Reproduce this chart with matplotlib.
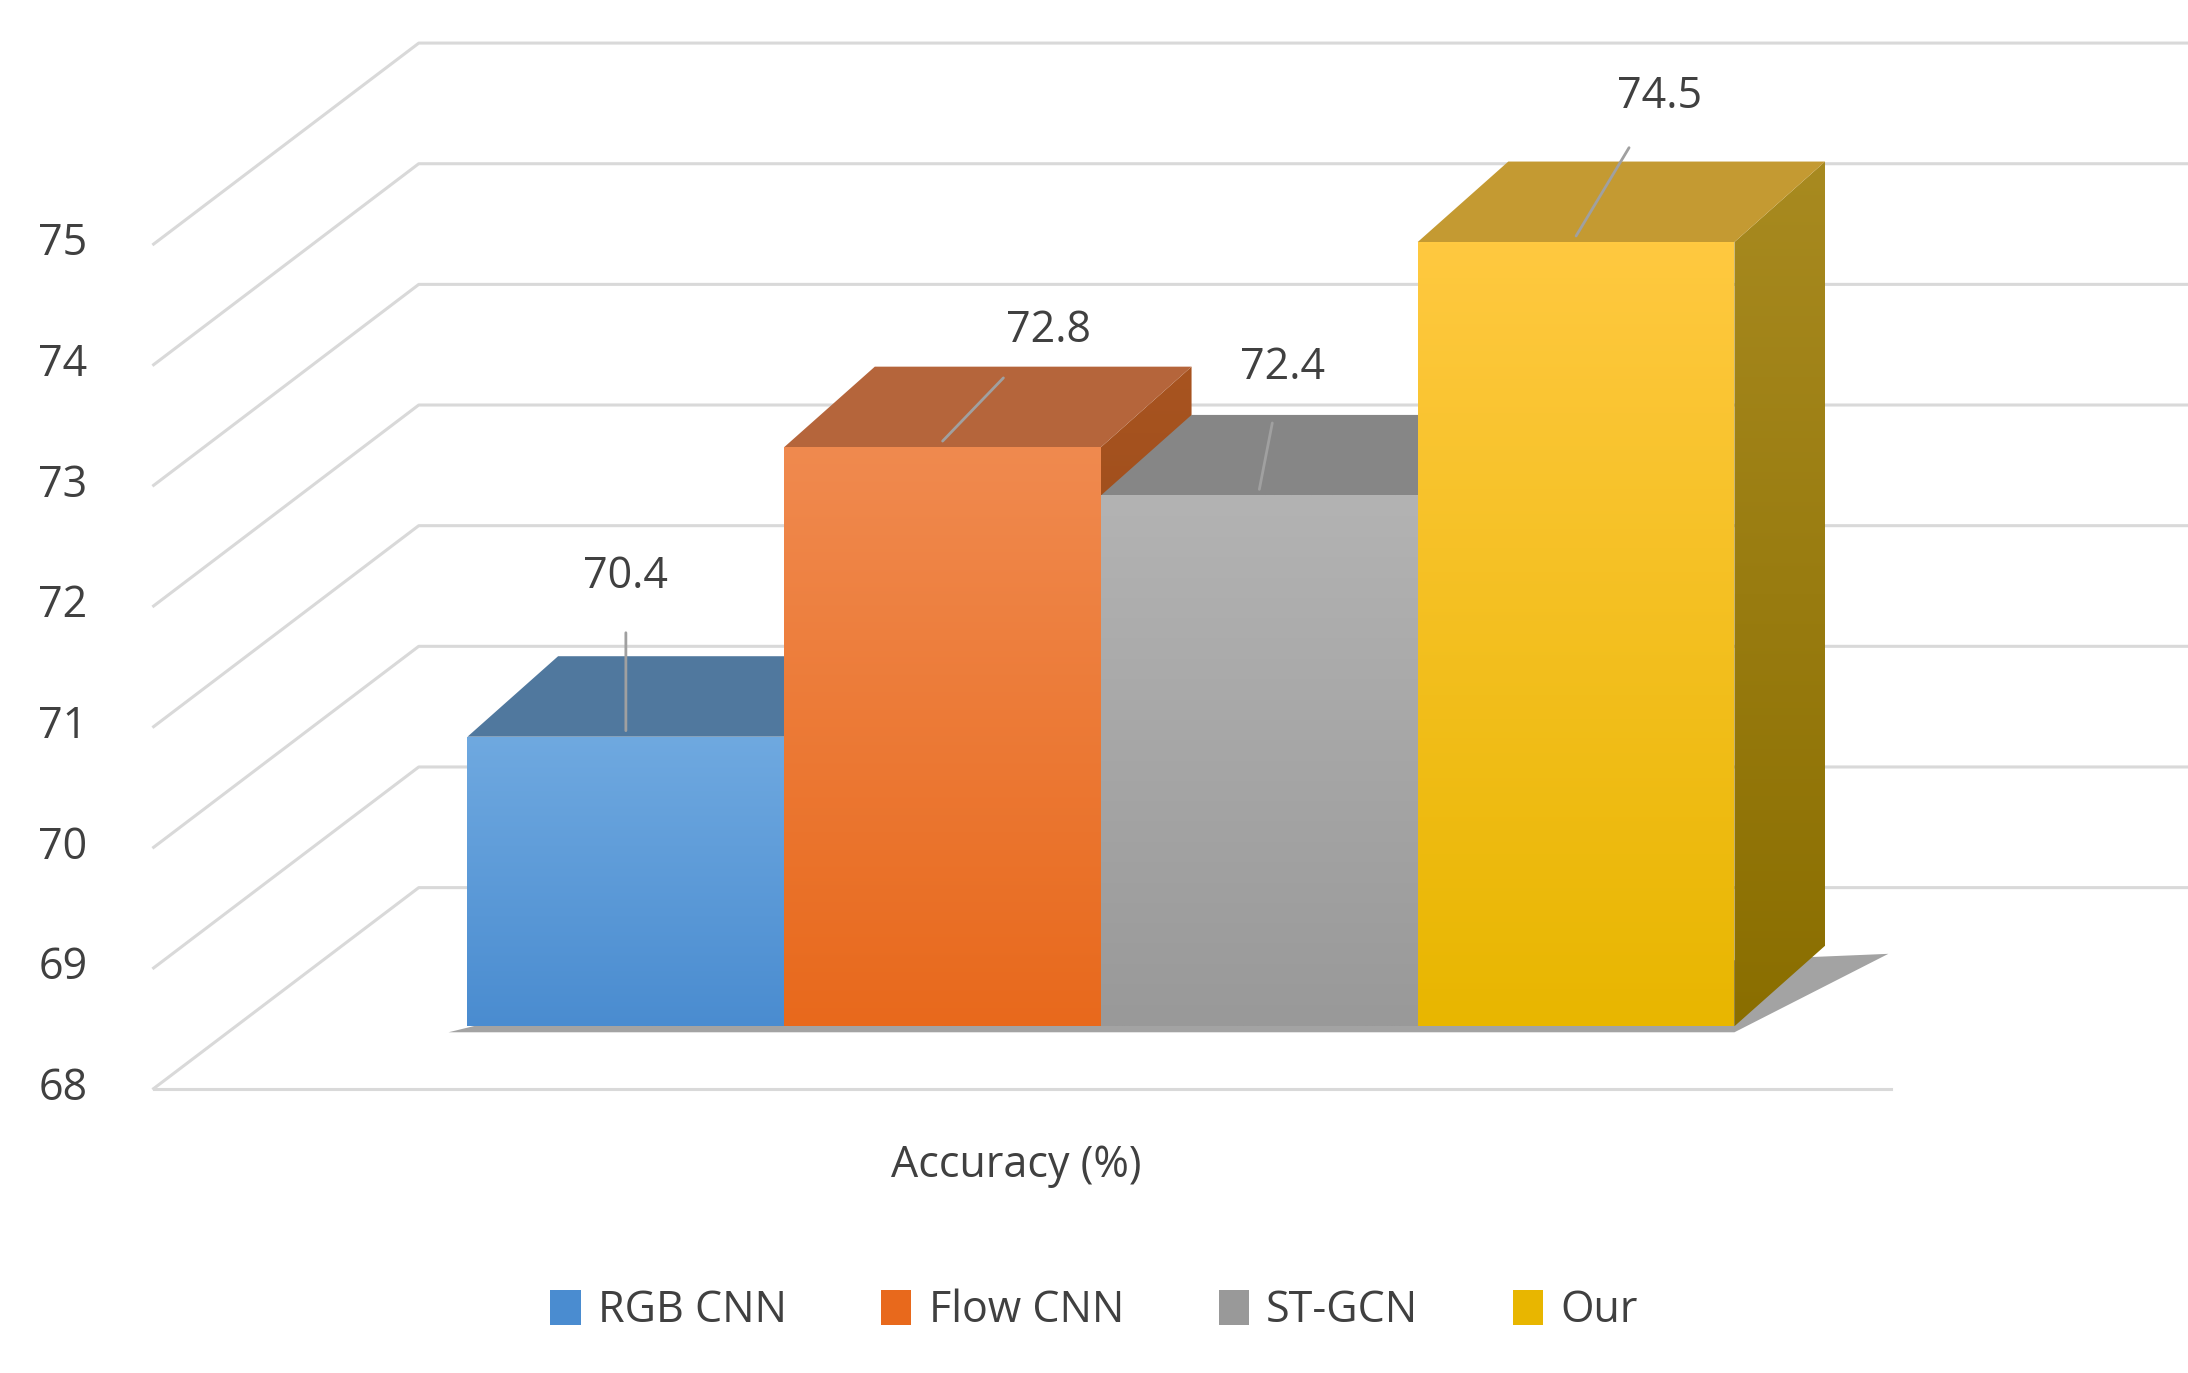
import numpy as np
import matplotlib.pyplot as plt
from matplotlib.patches import Polygon, Patch
from matplotlib.colors import LinearSegmentedColormap

# data
methods = ['RGB CNN', 'Flow CNN', 'ST-GCN', 'Our']
accuracy = [70.4, 72.8, 72.4, 74.5]
yticks = [68, 69, 70, 71, 72, 73, 74, 75]
xlabel = 'Accuracy (%)'

# colours: (front top, front bottom, top face, side top, side bottom)
colors = [('#6fa9e0', '#4a8cd0', '#50789e', '#3d6488', '#2f5272'),
          ('#f08a4f', '#e8691c', '#b5653b', '#a85420', '#8a4012'),
          ('#b3b3b3', '#999999', '#868686', '#777777', '#5f5f5f'),
          ('#ffc940', '#e8b600', '#c49a32', '#a88a20', '#8a6e00')]

S = 2188 / 1568  # reference px -> output px
fig = plt.figure(figsize=(21.88, 13.73), dpi=100)
ax = fig.add_axes([0, 0, 1, 1])
ax.set_xlim(-1.976, 4.932)
ax.set_ylim(65.126, 76.506)
ax.axis('off')

DX, DY = 0.286, 0.667      # bar depth
W = 0.5
grid_c = '#d9d9d9'
fs = 31

# gridlines: front-left diagonal + back wall line
for v in yticks:
    fx, fy = -1.491, v - 0.517
    bx, by = -0.654, v + 1.149
    ax.plot([fx, bx, 4.932], [fy, by, by], color=grid_c, lw=2.2, zorder=1)
    ax.text(-1.778, fy, str(v), ha='center', va='center', fontsize=fs,
            color='#404040', family='Open Sans')
ax.plot([-1.491, 3.993], [67.483, 67.483], color=grid_c, lw=2.2, zorder=1)

# floor shadow
shadow = Polygon([(-0.56, 67.95), (3.5, 67.95), (3.5 + DX + 0.2, 68.0 + DY * 0.9),
                  (-0.56 + DX, 68.0 + DY * 0.2)], closed=True, color='#666666',
                 alpha=0.6, zorder=2, lw=0)
ax.add_patch(shadow)


def grad_fill(poly, c1, c2, z):
    ax.add_patch(poly)
    poly.set_facecolor('none')
    poly.set_edgecolor('none')
    xs, ys = poly.get_xy()[:, 0], poly.get_xy()[:, 1]
    cmap = LinearSegmentedColormap.from_list('g', [c2, c1])
    g = np.linspace(0, 1, 256).reshape(-1, 1)
    im = ax.imshow(g, cmap=cmap, origin='lower', aspect='auto', zorder=z,
                   extent=[xs.min(), xs.max(), ys.min(), ys.max()])
    im.set_clip_path(poly)


base = 68.0
for i, (v, c) in enumerate(zip(accuracy, colors)):
    x0, x1 = i - W, i + W
    z = 3 + i
    side = Polygon([(x1, base), (x1 + DX, base + DY), (x1 + DX, v + DY), (x1, v)], closed=True)
    grad_fill(side, c[3], c[4], z)
    top = Polygon([(x0, v), (x1, v), (x1 + DX, v + DY), (x0 + DX, v + DY)], closed=True,
                  facecolor=c[2], edgecolor='none', zorder=z)
    ax.add_patch(top)
    front = Polygon([(x0, base), (x1, base), (x1, v), (x0, v)], closed=True)
    grad_fill(front, c[0], c[1], z + 0.5)

# value labels with leader lines
offsets = [(0, -110), (76, -79), (17, -87), (60, -100)]
for i, (v, off) in enumerate(zip(accuracy, offsets)):
    ax.annotate(f'{v}', xy=(i, v + 0.05), xytext=(off[0] * S, -off[1] * S),
                textcoords='offset pixels', ha='center', va='center', fontsize=fs,
                color='#404040', family='Open Sans', zorder=20,
                arrowprops=dict(arrowstyle='-', color='#a0a0a0', lw=2,
                                shrinkA=22, shrinkB=0))

ax.text(1.231, 66.84, xlabel, ha='center', va='center', fontsize=fs,
        color='#404040', family='Open Sans')

handles = [Patch(facecolor=c[1], edgecolor='none') for c in colors]
fig.legend(handles, methods, loc='center', bbox_to_anchor=(0.50, 0.045), ncol=4,
           frameon=False, prop={'family': 'Open Sans', 'size': fs},
           labelcolor='#404040', handlelength=0.7, handleheight=0.9,
           columnspacing=2.2, handletextpad=0.4)

fig.savefig('out.png', dpi=100, facecolor='white')
